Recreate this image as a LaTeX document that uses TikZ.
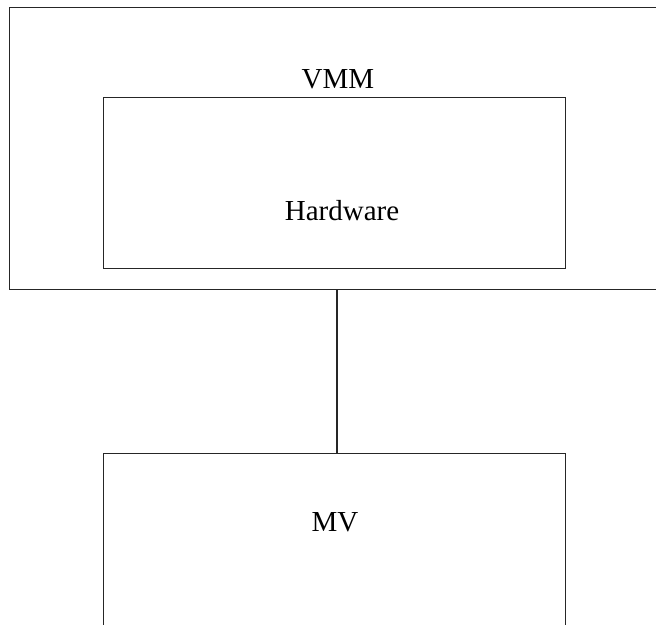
\documentclass[tikz,border=0pt]{standalone}
\usepackage{fontspec}
\setmainfont{Liberation Serif}
\begin{document}
\begin{tikzpicture}[x=1pt,y=-1pt,
  box/.style={draw=black!85,line width=1.3pt,inner sep=0pt,anchor=north west},
  lbl/.style={font=\fontsize{29}{34}\selectfont,inner sep=0pt}]
\useasboundingbox (0,0) rectangle (656,624);
\clip (0,0) rectangle (656,624);
\node[box,minimum width=655pt,minimum height=282pt] (vmmbox) at (9,7) {};
\node[box,minimum width=462pt,minimum height=171pt] (hw) at (103,97) {};
\node[box,minimum width=462pt,minimum height=200pt] (mv) at (103,453) {};
\node[lbl] (vmm) at (338,79) {VMM};
\node[lbl] (hwt) at (342,211) {Hardware};
\node[lbl] (mvt) at (335,522) {MV};
\draw[line width=1.3pt,black!85] (vmmbox.south -| 337,0) -- (mv.north -| 337,0);
\end{tikzpicture}
\end{document}
